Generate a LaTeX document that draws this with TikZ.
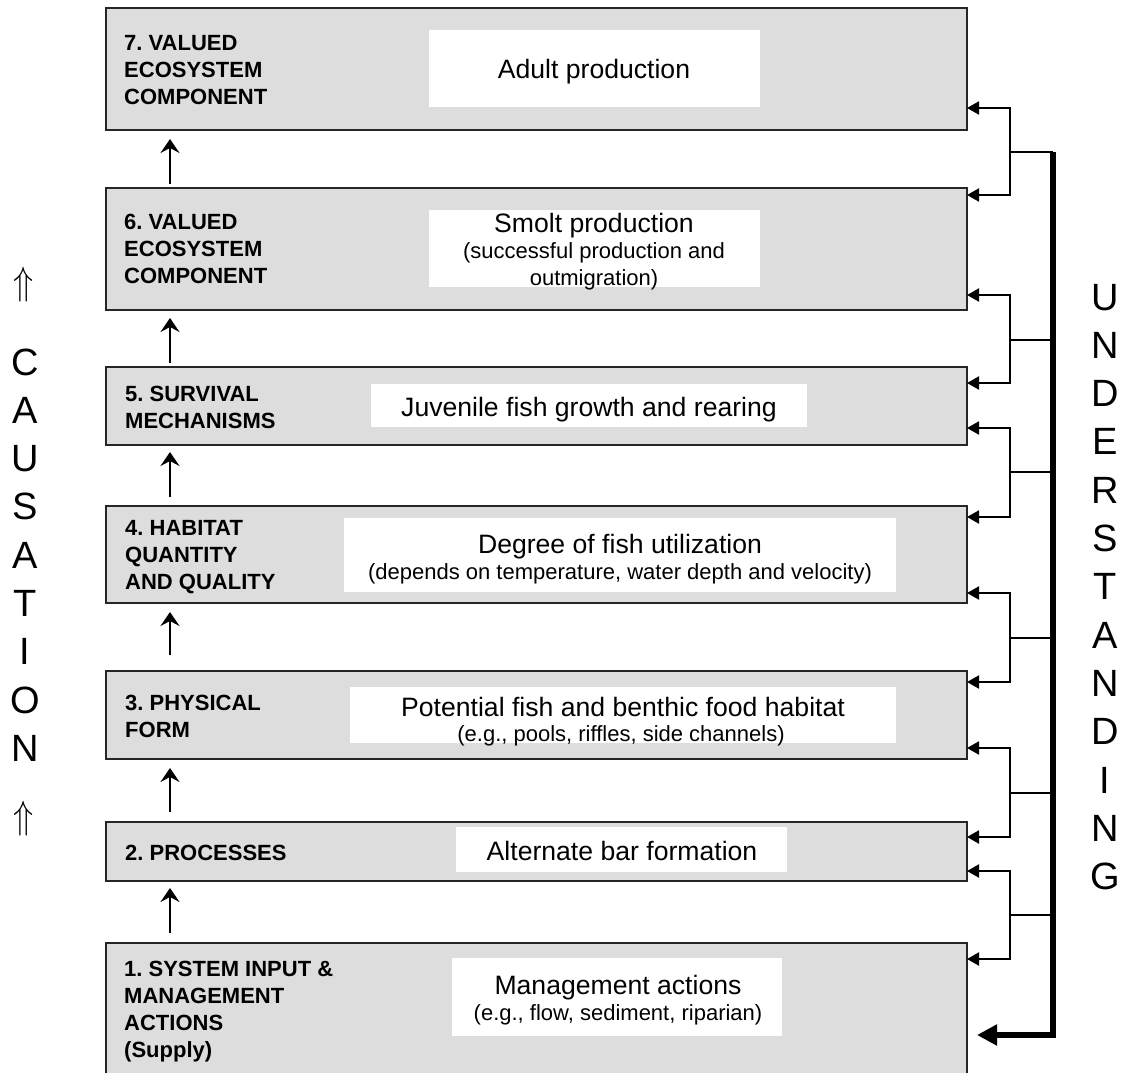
\documentclass[tikz,border=0pt]{standalone}
\usepackage{fontspec}
\usepackage{graphicx}
\setmainfont{Liberation Sans}
\usetikzlibrary{arrows.meta}
\frenchspacing

\definecolor{panel}{RGB}{221,221,221}
\newcommand\maintxt{\fontsize{26.6}{32}\selectfont}
\newcommand\subtxt{\fontsize{22}{26}\selectfont}
\newcommand\tagtxt{\fontsize{22}{27}\selectfont\bfseries}
\newcommand\columntxt{\fontsize{38}{48.3}\selectfont}

\begin{document}
\begin{tikzpicture}[x=1pt,y=-1pt,
  level/.style={draw=black!85, line width=1.8pt, fill=panel, minimum width=861pt,
                anchor=north west, inner sep=0pt, outer sep=0pt},
  card/.style={fill=white, anchor=north west, inner sep=0pt, outer sep=0pt},
  mainline/.style={anchor=base, inner sep=0pt, font=\maintxt},
  subline/.style={anchor=base, inner sep=0pt, font=\subtxt},
  tag/.style={anchor=base west, inner sep=0pt, font=\tagtxt},
  upflow/.style={line width=1.8pt, -{Stealth[length=14pt,width=19pt,inset=5pt]}},
  fork/.style={line width=2pt, {Triangle[length=12pt,width=13pt]}-{Triangle[length=12pt,width=13pt]}},
  tie/.style={line width=1.6pt},
  spine/.style={line width=6.5pt, -{Triangle[length=20pt,width=20pt]}},
]
\useasboundingbox (0,0) rectangle (1122,1072);
\fill[white] (0,0) rectangle (1122,1072);
\clip (0,0) rectangle (1122,1072);

% ---- the seven levels ----
\node[level, minimum height=122pt] (b7) at (106,8) {};
\node[level, minimum height=122pt] (b6) at (106,188) {};
\node[level, minimum height=78pt]  (b5) at (106,367) {};
\node[level, minimum height=97pt]  (b4) at (106,506) {};
\node[level, minimum height=88pt]  (b3) at (106,671) {};
\node[level, minimum height=59pt]  (b2) at (106,822) {};
\node[level, minimum height=142pt] (b1) at (106,943) {};

% ---- level titles ----
\node[tag] (g7) at (124,50)  {\begin{tabular}[t]{@{}l@{}}7. VALUED\\ECOSYSTEM\\COMPONENT\end{tabular}};
\node[tag] (g6) at (124,229) {\begin{tabular}[t]{@{}l@{}}6. VALUED\\ECOSYSTEM\\COMPONENT\end{tabular}};
\node[tag] (g5) at (125,401) {\begin{tabular}[t]{@{}l@{}}5. SURVIVAL\\MECHANISMS\end{tabular}};
\node[tag] (g4) at (125,535) {\begin{tabular}[t]{@{}l@{}}4. HABITAT\\QUANTITY\\AND QUALITY\end{tabular}};
\node[tag] (g3) at (125,710) {\begin{tabular}[t]{@{}l@{}}3. PHYSICAL\\FORM\end{tabular}};
\node[tag] (g2) at (125,860) {2. PROCESSES};
\node[tag] (g1) at (124,976) {\begin{tabular}[t]{@{}l@{}}1. SYSTEM INPUT \&\\MANAGEMENT\\ACTIONS\\(Supply)\end{tabular}};

% ---- white cards with the examples ----
\node[card, minimum width=331pt, minimum height=77pt] (w7) at (429,30) {};
\node[card, minimum width=331pt, minimum height=77pt] (w6) at (429,210) {};
\node[card, minimum width=436pt, minimum height=43pt] (w5) at (371,384) {};
\node[card, minimum width=552pt, minimum height=74pt] (w4) at (344,518) {};
\node[card, minimum width=546pt, minimum height=56pt] (w3) at (350,687) {};
\node[card, minimum width=331pt, minimum height=45pt] (w2) at (456,827) {};
\node[card, minimum width=330pt, minimum height=78pt] (w1) at (452,958) {};

\node[mainline] (t7)  at (594,78)  {Adult production};
\node[mainline] (t6a) at (594,232) {Smolt production};
\node[subline]  (t6b) at (594,258) {(successful production and};
\node[subline]  (t6c) at (594,285) {outmigration)};
\node[mainline] (t5)  at (589,416) {Juvenile fish growth and rearing};
\node[mainline] (t4a) at (620,553) {Degree of fish utilization};
\node[subline]  (t4b) at (620,579) {(depends on temperature, water depth and velocity)};
\node[mainline] (t3a) at (623,716) {Potential fish and benthic food habitat};
\node[subline]  (t3b) at (621,741) {(e.g., pools, riffles, side channels)};
\node[mainline] (t2)  at (622,860) {Alternate bar formation};
\node[mainline] (t1a) at (618,994) {Management actions};
\node[subline]  (t1b) at (618,1020) {(e.g., flow, sediment, riparian)};

% ---- causation arrows between levels ----
\coordinate (ax) at (170,0);
\draw[upflow, shorten <=4pt,  shorten >=9pt] (b6.north -| ax) -- (b7.south -| ax);
\draw[upflow, shorten <=4pt,  shorten >=8pt] (b5.north -| ax) -- (b6.south -| ax);
\draw[upflow, shorten <=9pt,  shorten >=7pt] (b4.north -| ax) -- (b5.south -| ax);
\draw[upflow, shorten <=16pt, shorten >=9pt] (b3.north -| ax) -- (b4.south -| ax);
\draw[upflow, shorten <=10pt, shorten >=9pt] (b2.north -| ax) -- (b3.south -| ax);
\draw[upflow, shorten <=10pt, shorten >=7pt] (b1.north -| ax) -- (b2.south -| ax);

% ---- understanding feedback on the right ----
\coordinate (sx) at (1053,0);
\coordinate (u7) at (1010,108); \coordinate (l6) at (1010,195); \coordinate (j7) at (1010,152);
\coordinate (u6) at (1010,295); \coordinate (l5) at (1010,383); \coordinate (j6) at (1010,340);
\coordinate (u5) at (1010,428); \coordinate (l4) at (1010,517); \coordinate (j5) at (1010,472);
\coordinate (u4) at (1010,593); \coordinate (l3) at (1010,682); \coordinate (j4) at (1010,638);
\coordinate (u3) at (1010,748); \coordinate (l2) at (1010,837); \coordinate (j3) at (1010,793);
\coordinate (u2) at (1010,871); \coordinate (l1) at (1010,959); \coordinate (j2) at (1010,915);

\draw[fork] (u7 -| b7.east) -- (u7) -- (l6) -- (l6 -| b6.east);
\draw[fork] (u6 -| b6.east) -- (u6) -- (l5) -- (l5 -| b5.east);
\draw[fork] (u5 -| b5.east) -- (u5) -- (l4) -- (l4 -| b4.east);
\draw[fork] (u4 -| b4.east) -- (u4) -- (l3) -- (l3 -| b3.east);
\draw[fork] (u3 -| b3.east) -- (u3) -- (l2) -- (l2 -| b2.east);
\draw[fork] (u2 -| b2.east) -- (u2) -- (l1) -- (l1 -| b1.east);

\foreach \j in {j7,j6,j5,j4,j3,j2} \draw[tie] (\j) -- (\j -| sx);

\coordinate (spinetop) at (1053,152);
\coordinate (spinebot) at (1053,1035);
\draw[spine, shorten >=10pt] (spinetop) -- (spinebot) -- (spinebot -| b1.east);

% ---- side captions ----
\node[inner sep=0pt] (upA) at (24,285) {\scalebox{3.3}[3.94]{$\Uparrow$}};
\node[anchor=base, inner sep=0pt, font=\columntxt] (causation) at (25,375)
  {\begin{tabular}[t]{@{}c@{}}C\\A\\U\\S\\A\\T\\I\\O\\N\end{tabular}};
\node[inner sep=0pt] (upB) at (24,819) {\scalebox{3.3}[3.94]{$\Uparrow$}};
\node[anchor=base, inner sep=0pt, font=\columntxt] (understanding) at (1105,310)
  {\begin{tabular}[t]{@{}c@{}}U\\N\\D\\E\\R\\S\\T\\A\\N\\D\\I\\N\\G\end{tabular}};
\end{tikzpicture}
\end{document}
